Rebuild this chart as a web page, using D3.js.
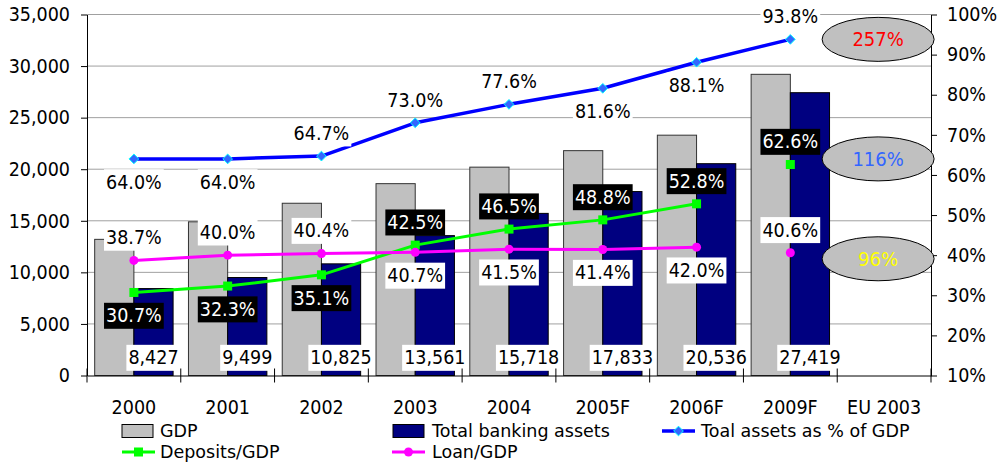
<!DOCTYPE html>
<html><head><meta charset="utf-8">
<script src="https://cdn.jsdelivr.net/npm/d3@7"></script>
<style>
body{margin:0;background:#fff;}
svg{display:block;font-family:"DejaVu Sans Condensed","Liberation Sans",Arial,sans-serif;}
</style></head><body>
<svg id="chart" width="999" height="464"></svg>
<script>
// ---------- data ----------
const categories = ["2000","2001","2002","2003","2004","2005F","2006F","2009F","EU 2003"];
const gdp = [13200,14900,16700,18600,20200,21800,23300,29200,null];
const bankingAssets = [8427,9499,10825,13561,15718,17833,20536,27419,null];
const assetsPctGdp = [64.0,64.0,64.7,73.0,77.6,81.6,88.1,93.8,null];
const depositsGdp = [30.7,32.3,35.1,42.5,46.5,48.8,52.8,62.6,null];
const loanGdp = [38.7,40.0,40.4,40.7,41.5,41.4,42.0,40.6,null];
const leftTicks = [0,5000,10000,15000,20000,25000,30000,35000];
const rightTicks = [10,20,30,40,50,60,70,80,90,100];
const euLabels = ["257%","116%","96%"];
const euLevels = [93.8,64.0,39.1];
const euColors = ["#ff0000","#3366ff","#ffff00"];
const lastLinked = "2006F"; // deposits & loans lines stop here; 2009F shown as lone point
// label sides
const assetsSide = ["below","below","above","above","above","below","below","above"];
const depositsSide = ["below","below","below","above","above","above","above","above"];
const loanSide = ["above","above","above","below","below","below","below","above"];

// ---------- layout ----------
const FS = 19.5;
const svg = d3.select("#chart");
const pL = 87, pR = 931, pT = 14.5, pB = 375.5;

const x = d3.scaleBand().domain(categories).range([pL, pR]).paddingInner(0).paddingOuter(0);
const xs = d3.scaleBand().domain(["gdp","assets"]).range([0, x.bandwidth()]).paddingInner(0).paddingOuter(0.196);
const yL = d3.scaleLinear().domain([0,35000]).range([pB, pT]);
const yR = d3.scaleLinear().domain([10,100]).range([pB, pT]);
const cx = c => x(c) + x.bandwidth()/2;

// gridlines
svg.append("g").selectAll("line").data(leftTicks.filter(d=>d>0)).join("line")
  .attr("x1", pL).attr("x2", pR).attr("y1", d=>yL(d)).attr("y2", d=>yL(d))
  .attr("stroke", "#a0a0a0").attr("stroke-width", 1);

// bars
const barG = svg.append("g");
categories.forEach((c,i) => {
  if (gdp[i] != null) barG.append("rect")
    .attr("x", x(c)+xs("gdp")).attr("width", xs.bandwidth())
    .attr("y", yL(gdp[i])).attr("height", yL(0)-yL(gdp[i]))
    .attr("fill", "#c0c0c0").attr("stroke", "#333").attr("stroke-width", 1);
  if (bankingAssets[i] != null) barG.append("rect")
    .attr("x", x(c)+xs("assets")).attr("width", xs.bandwidth())
    .attr("y", yL(bankingAssets[i])).attr("height", yL(0)-yL(bankingAssets[i]))
    .attr("fill", "#000080").attr("stroke", "#000").attr("stroke-width", 1);
});

// lines
const linkIdx = categories.indexOf(lastLinked);
function drawLine(vals, color, width, linkedTo) {
  const pts = vals.map((v,i)=>({c:categories[i], v, i})).filter(d=>d.v!=null);
  const line = d3.line().x(d=>cx(d.c)).y(d=>yR(d.v)).defined(d=>d.i<=linkedTo);
  svg.append("path").datum(pts).attr("d", line).attr("fill","none")
    .attr("stroke", color).attr("stroke-width", width).attr("stroke-linejoin","round");
  return pts;
}
const depPts = drawLine(depositsGdp, "#00ff00", 3, linkIdx);
const loanPts = drawLine(loanGdp, "#ff00ff", 3, linkIdx);
const assetPts = drawLine(assetsPctGdp, "#0000ff", 3.5, 99);

// markers
svg.append("g").selectAll("rect").data(depPts).join("rect")
  .attr("x", d=>cx(d.c)-4.5).attr("y", d=>yR(d.v)-4.5).attr("width", 9).attr("height", 9)
  .attr("fill", "#00ff00");
svg.append("g").selectAll("circle").data(loanPts).join("circle")
  .attr("cx", d=>cx(d.c)).attr("cy", d=>yR(d.v)).attr("r", 4.5).attr("fill", "#ff00ff");
const diamond = d3.symbol().type(d3.symbolDiamond2).size(60);
svg.append("g").selectAll("path").data(assetPts).join("path")
  .attr("transform", d=>`translate(${cx(d.c)},${yR(d.v)})`).attr("d", diamond)
  .attr("fill", "#3366ff").attr("stroke", "#00ffff").attr("stroke-width", 1);

// labels
const labG = svg.append("g").attr("font-size", FS);
function boxLabel(px, py, txt, bg, fg) {
  const g = labG.append("g");
  const t = g.append("text").attr("x", px).attr("y", py).attr("dy", "0.35em")
    .attr("text-anchor", "middle").attr("fill", fg).text(txt);
  const b = t.node().getBBox();
  g.insert("rect", "text").attr("x", b.x-2).attr("y", b.y-1.5)
    .attr("width", b.width+4).attr("height", b.height+3).attr("fill", bg);
}
const off = s => s === "above" ? -23 : 23;
const pct = d3.format(".1f");
bankingAssets.forEach((v,i)=>{ if (v!=null)
  boxLabel(x(categories[i])+xs("assets")+xs.bandwidth()/2, yL(0)-18, d3.format(",")(v), "#fff", "#000"); });
assetPts.forEach((d,k)=> boxLabel(cx(d.c), yR(d.v)+off(assetsSide[k]), pct(d.v)+"%", "#fff", "#000"));
loanPts.forEach((d,k)=> boxLabel(cx(d.c), yR(d.v)+off(loanSide[k]), pct(d.v)+"%", "#fff", "#000"));
depPts.forEach((d,k)=> boxLabel(cx(d.c), yR(d.v)+off(depositsSide[k]), pct(d.v)+"%", "#000", "#fff"));

// axes
function styleAxis(g) {
  g.attr("font-size", FS).attr("font-family", null);
  g.selectAll("text").attr("fill", "#000");
  g.selectAll("path,line").attr("stroke", "#000");
}
svg.append("g").attr("transform", `translate(${pL},0)`)
  .call(d3.axisLeft(yL).tickValues(leftTicks).tickSize(6).tickSizeOuter(0).tickPadding(11).tickFormat(d3.format(",")))
  .call(styleAxis);
svg.append("g").attr("transform", `translate(${pR},0)`)
  .call(d3.axisRight(yR).tickValues(rightTicks).tickSize(6).tickSizeOuter(0).tickPadding(10).tickFormat(d=>d+"%"))
  .call(styleAxis);
svg.append("g").attr("transform", `translate(0,${pB})`)
  .call(d3.axisBottom(x).tickSize(0).tickSizeOuter(0).tickPadding(25))
  .call(styleAxis);
// category boundary ticks (crossing)
svg.append("g").selectAll("line").data(categories.map(c=>x(c)).concat([pR])).join("line")
  .attr("x1", d=>d).attr("x2", d=>d).attr("y1", pB-7).attr("y2", pB+7)
  .attr("stroke", "#000");

// EU 2003 ellipses
const euG = svg.append("g");
euLabels.forEach((t,i)=>{
  const ex = cx("EU 2003") - 6, ey = yR(euLevels[i]);
  euG.append("ellipse").attr("cx", ex).attr("cy", ey).attr("rx", 56).attr("ry", 22)
    .attr("fill", "#c0c0c0").attr("stroke", "#000").attr("stroke-width", 1);
  euG.append("text").attr("x", ex).attr("y", ey).attr("dy", "0.35em").attr("text-anchor", "middle")
    .attr("font-size", 20).attr("fill", euColors[i]).text(t);
});

// legend
const lg = svg.append("g").attr("font-size", 17.5).attr("font-family", "'DejaVu Sans', sans-serif");
const r1 = 431, r2 = 452;
function legText(tx, ty, t){ lg.append("text").attr("x", tx).attr("y", ty).attr("dy","0.35em").attr("fill","#000").text(t); }
lg.append("rect").attr("x",122).attr("y",r1-6.5).attr("width",31).attr("height",13).attr("fill","#c0c0c0").attr("stroke","#000");
legText(160, r1, "GDP");
lg.append("rect").attr("x",393).attr("y",r1-6.5).attr("width",31).attr("height",13).attr("fill","#000080").attr("stroke","#000");
legText(432, r1, "Total banking assets");
lg.append("line").attr("x1",662).attr("x2",695).attr("y1",r1).attr("y2",r1).attr("stroke","#0000ff").attr("stroke-width",3.5);
lg.append("path").attr("transform",`translate(678.5,${r1})`).attr("d",diamond).attr("fill","#3366ff").attr("stroke","#00ffff");
legText(701, r1, "Toal assets as % of GDP");
lg.append("line").attr("x1",122).attr("x2",155).attr("y1",r2).attr("y2",r2).attr("stroke","#00ff00").attr("stroke-width",3);
lg.append("rect").attr("x",134).attr("y",r2-4.5).attr("width",9).attr("height",9).attr("fill","#00ff00");
legText(160, r2, "Deposits/GDP");
lg.append("line").attr("x1",392).attr("x2",425).attr("y1",r2).attr("y2",r2).attr("stroke","#ff00ff").attr("stroke-width",3);
lg.append("circle").attr("cx",408.5).attr("cy",r2).attr("r",4.5).attr("fill","#ff00ff");
legText(432, r2, "Loan/GDP");
</script>
</body></html>
